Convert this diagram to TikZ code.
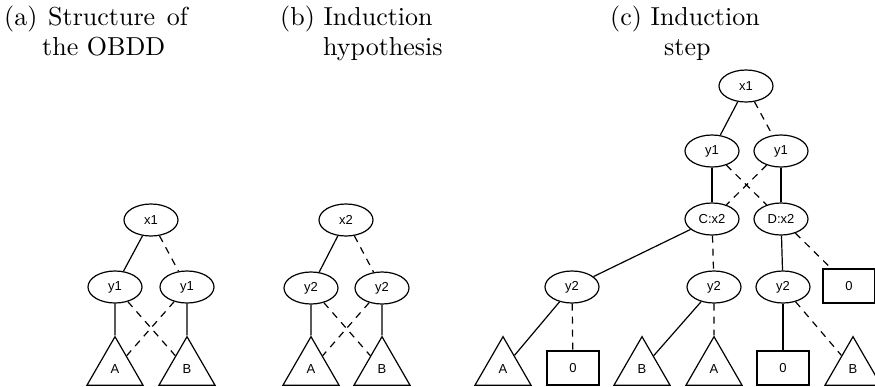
\documentclass[tikz,border=0pt]{standalone}
\usepackage{fontspec}
\setmainfont{lmroman10-regular.otf}
\newfontfamily\labelfont{Liberation Sans}
\usetikzlibrary{shapes.geometric}

\begin{document}
\begin{tikzpicture}[x=1pt,y=-1pt,
  lbl/.style={font=\labelfont\fontsize{13}{15}\selectfont},
  vnode/.style={lbl, ellipse, draw, line width=1.2pt, minimum width=54pt,
    minimum height=32pt, inner sep=0pt},
  term/.style={lbl, rectangle, draw, line width=1.2pt, minimum width=52pt,
    minimum height=34pt, inner sep=0pt},
  subg/.style={lbl, regular polygon, regular polygon sides=3, draw,
    line width=1.2pt, minimum size=64.7pt, inner sep=0pt},
  hi/.style={line width=1.2pt},
  lo/.style={line width=1.2pt, dash pattern=on 7pt off 6pt},
  title/.style={anchor=base west, inner sep=0pt,
    font=\fontsize{26}{30}\selectfont}
]
\path[use as bounding box] (0,0) rectangle (875,386);
\clip (0,0) rectangle (875,386);

% captions
\node[title] (ta0) at (4,25) {(a)};
\node[title] (ta1) at (48,25) {Structure\hspace{0.45em}of};
\node[title] (ta2) at (42,55) {the OBDD};
\node[title] (tb1) at (280,25) {(b) Induction};
\node[title] (tb2) at (323,55) {hypothesis};
\node[title] (tc1) at (610,25) {(c) Induction};
\node[title] (tc2) at (664,55) {step};

% (a) structure of the OBDD
\node[vnode] (ax1)  at (151,220) {x1};
\node[vnode] (ay1l) at (115,287) {y1};
\node[vnode] (ay1r) at (187,287) {y1};
\node[subg]  (aA)   at (115,369) {A};
\node[subg]  (aB)   at (187,369) {B};
\draw[hi] (ax1) -- (ay1l);
\draw[lo] (ax1) -- (ay1r);
\draw[hi] (ay1l) -- (aA);
\draw[lo] (ay1l) -- (aB);
\draw[lo] (ay1r) -- (aA);
\draw[hi] (ay1r) -- (aB);

% (b) induction hypothesis
\node[vnode] (bx2)  at (346,220) {x2};
\node[vnode] (by2l) at (311,288) {y2};
\node[vnode] (by2r) at (382,288) {y2};
\node[subg]  (bA)   at (311,369) {A};
\node[subg]  (bB)   at (382,369) {B};
\draw[hi] (bx2) -- (by2l);
\draw[lo] (bx2) -- (by2r);
\draw[hi] (by2l) -- (bA);
\draw[lo] (by2l) -- (bB);
\draw[lo] (by2r) -- (bA);
\draw[hi] (by2r) -- (bB);

% (c) induction step
\node[vnode] (cx1)  at (746,86)  {x1};
\node[vnode] (cy1l) at (712,151) {y1};
\node[vnode] (cy1r) at (781,151) {y1};
\node[vnode] (cC)   at (712,219) {C:x2};
\node[vnode] (cD)   at (781,219) {D:x2};
\node[vnode] (cy2a) at (572,287) {y2};
\node[vnode] (cy2b) at (714,287) {y2};
\node[vnode] (cy2c) at (783,287) {y2};
\node[term]  (cz1)  at (849,286) {0};
\node[subg]  (cA1)  at (503,369) {A};
\node[term]  (cz2)  at (573,368) {0};
\node[subg]  (cB1)  at (642,369) {B};
\node[subg]  (cA2)  at (714,369) {A};
\node[term]  (cz3)  at (783,368) {0};
\node[subg]  (cB2)  at (853,369) {B};

\draw[hi] (cx1) -- (cy1l);
\draw[lo] (cx1) -- (cy1r);
\draw[hi] (cy1l) -- (cC);
\draw[lo] (cy1l) -- (cD);
\draw[lo] (cy1r) -- (cC);
\draw[hi] (cy1r) -- (cD);
\draw[hi] (cC) -- (cy2a);
\draw[lo] (cC) -- (cy2b);
\draw[hi] (cD) -- (cy2c);
\draw[lo] (cD) -- (cz1);
\draw[hi] (cy2a) -- (cA1);
\draw[lo] (cy2a) -- (cz2);
\draw[hi] (cy2b) -- (cB1);
\draw[lo] (cy2b) -- (cA2);
\draw[hi] (cy2c) -- (cz3);
\draw[lo] (cy2c) -- (cB2);
\end{tikzpicture}
\end{document}
